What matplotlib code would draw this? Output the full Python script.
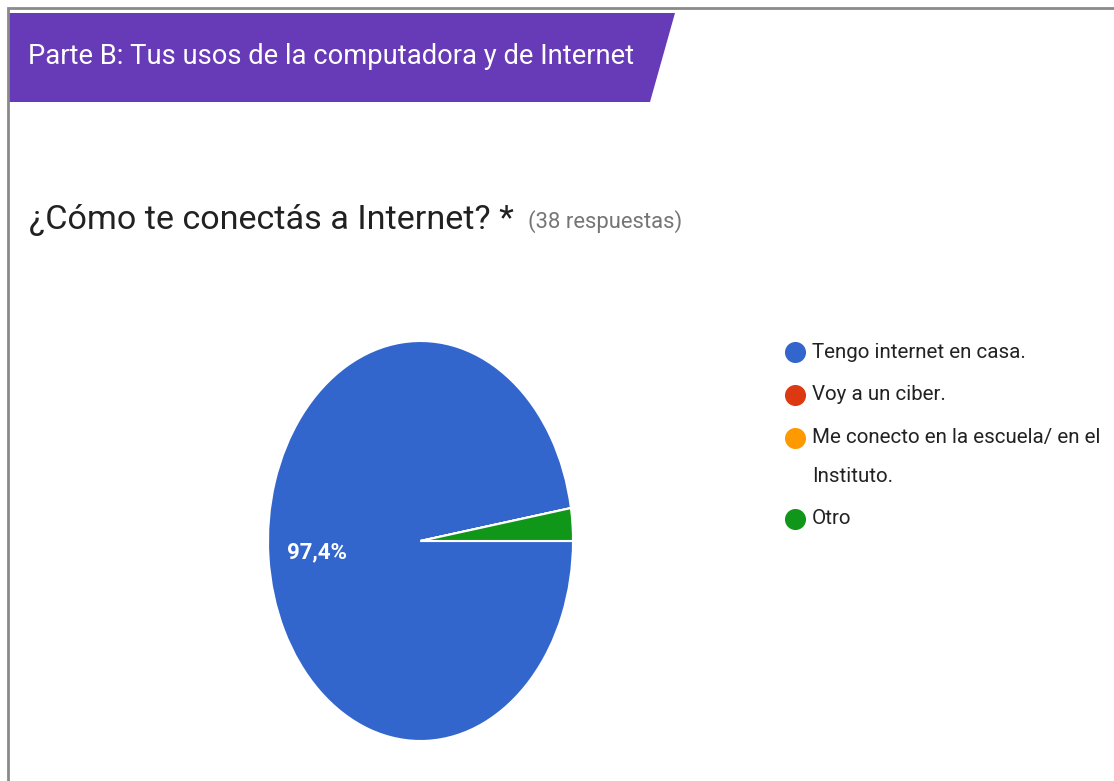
import matplotlib.pyplot as plt
from matplotlib.patches import Polygon

plt.rcParams['font.family'] = ['Roboto', 'DejaVu Sans']

# Datos de la encuesta
labels = ['Tengo internet en casa.', 'Voy a un ciber.',
          'Me conecto en la escuela/ en el\nInstituto.', 'Otro']
counts = [37, 0, 0, 1]
colors = ['#3366cc', '#dc3912', '#ff9900', '#109618']
section = 'Parte B: Tus usos de la computadora y de Internet'
question = '¿Cómo te conectás a Internet? *'
n_resp = '(38 respuestas)'

W, H = 1114, 781
fig = plt.figure(figsize=(W / 100, H / 100), dpi=100)

# fondo en pixeles
bg = fig.add_axes([0, 0, 1, 1])
bg.set_xlim(0, W)
bg.set_ylim(H, 0)
bg.axis('off')

# borde gris
bg.plot([8, 8, W], [H, 8, 8], color='#8a8a8a', lw=2, solid_joinstyle='miter')

# banner morado
bg.add_patch(Polygon([[9, 13], [675, 13], [650, 102], [9, 102]],
                     closed=True, facecolor='#673ab7', edgecolor='none'))
bg.text(28, 57, section, color='white', fontsize=19.7, va='center', ha='left')

# pregunta
bg.text(29, 220, question, color='#212121', fontsize=24.6, va='center', ha='left')
bg.text(528, 222, n_resp, color='#757575', fontsize=15.8, va='center', ha='left')

# torta
ax = fig.add_axes([268 / W, 1 - 741 / H, 305 / W, 400 / H])


def pct(p):
    return f'{p:.1f}%'.replace('.', ',') if p > 5 else ''


wedges, texts, autotexts = ax.pie(counts, colors=colors, startangle=0, counterclock=False,
                                  autopct=pct, pctdistance=0.68,
                                  wedgeprops=dict(edgecolor='white', linewidth=1.5))
for t in autotexts:
    t.set_color('white')
    t.set_fontsize(16)
    t.set_fontweight('bold')
ax.set_aspect('auto')
ax.set_xlim(-1, 1)
ax.set_ylim(-1, 1)

# leyenda
y = 352
for lab, c in zip(labels, colors):
    bg.scatter([795], [y], s=200, color=c, zorder=3)
    for i, line in enumerate(lab.split('\n')):
        bg.text(812, y + 38 * i, line, color='#222222', fontsize=14.8,
                va='center', ha='left')
    y += 43 + 38 * lab.count('\n')

fig.savefig('out.png', dpi=100)
